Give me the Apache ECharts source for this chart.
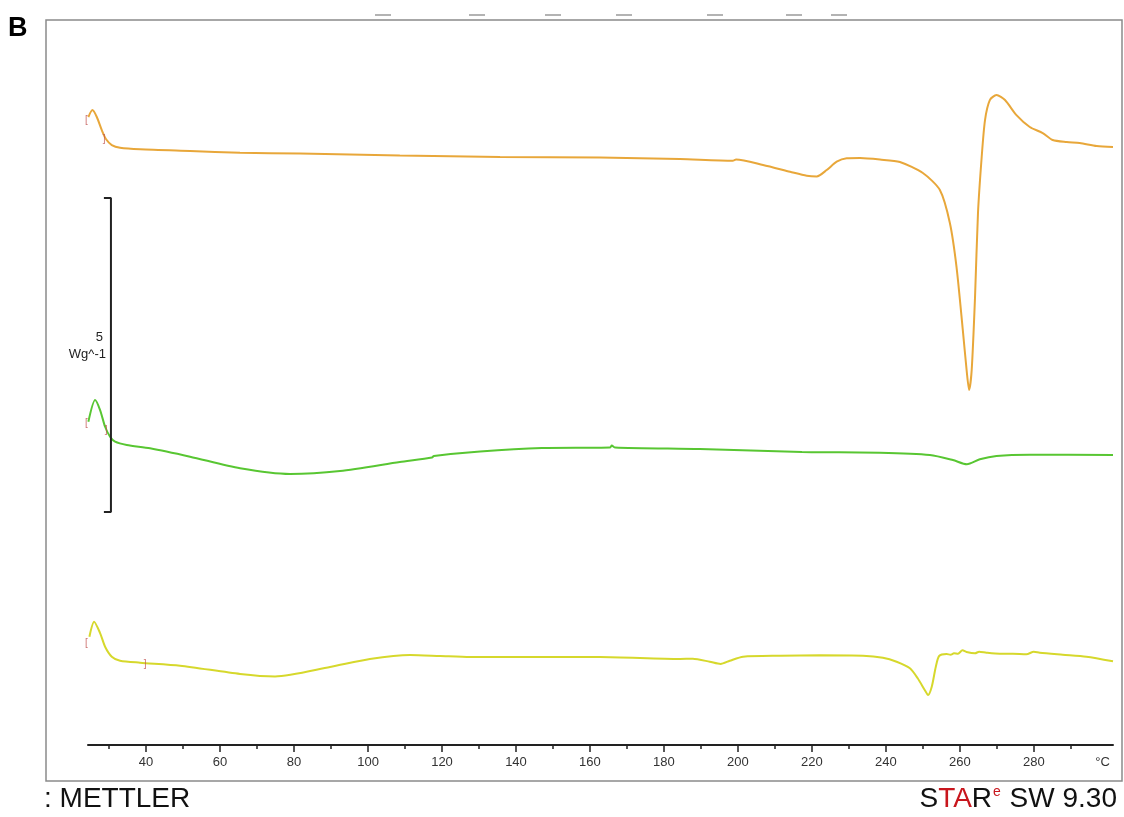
<!DOCTYPE html>
<html>
<head>
<meta charset="utf-8">
<script src="https://cdn.jsdelivr.net/npm/echarts@6/dist/echarts.min.js"></script>
<style>
html,body{margin:0;padding:0;background:#fff;}
#c{width:1124px;height:817px;}
</style>
</head>
<body>
<div id="c"></div>
<script>
// Temperature (°C) and heat flow (W/g, offset per curve)
var orangeT = [24.4,25.49,26.68,28.03,29.19,30.73,32.97,38.38,51.89,65.41,81.62,108.6,135.7,162.7,184.3,198.6,199.5,206.8,214.1,218.6,221.3,224.0,226.7,229.4,233.0,238.4,243.8,250.0,254.6,257.3,259.1,260.8,261.9,262.5,263.2,264.1,264.9,265.9,266.8,268.1,269.9,272.2,275.3,278.9,282.4,285.1,288.9,292.4,297.0,301.4];
var orangeV = [10.00,10.11,10.00,9.79,9.645,9.554,9.511,9.486,9.459,9.432,9.419,9.387,9.363,9.355,9.331,9.304,9.323,9.236,9.129,9.065,9.053,9.156,9.288,9.342,9.347,9.323,9.283,9.108,8.838,8.312,7.611,6.608,5.924,5.653,5.971,7.134,8.471,9.363,9.952,10.27,10.35,10.27,10.03,9.841,9.745,9.634,9.602,9.586,9.538,9.522];

var greenT = [24.4,26.22,27.57,28.92,30.27,31.62,34.78,41.08,51.89,65.41,78.92,92.43,108.6,117.3,117.8,130.3,147.0,165.4,165.9,166.8,189.7,217.3,238.4,251.9,258.1,261.9,265.4,269.9,278.9,301.4];
var greenV = [5.148,5.494,5.334,5.068,4.909,4.830,4.777,4.725,4.591,4.406,4.315,4.363,4.506,4.578,4.602,4.674,4.729,4.737,4.769,4.737,4.713,4.666,4.654,4.618,4.538,4.470,4.549,4.602,4.623,4.618];

var yellowT = [24.68,25.95,27.57,28.92,30.73,32.97,38.38,49.19,65.41,74.86,89.73,100.5,111.4,119.5,127.6,162.7,184.3,187.8,192.4,195.3,197.8,201.4,211.4,222.2,233.8,239.2,242.9,246.5,248.6,250.5,251.4,252.4,253.5,254.4,256.4,257.5,258.4,259.5,260.7,261.8,264.1,265.2,267.2,270.8,274.3,278.0,280.0,281.6,287.8,294.2,301.4];
var yellowV = [1.725,1.963,1.783,1.565,1.406,1.342,1.311,1.263,1.131,1.091,1.242,1.369,1.433,1.417,1.401,1.401,1.369,1.374,1.326,1.290,1.342,1.406,1.422,1.428,1.422,1.390,1.326,1.221,1.062,0.876,0.796,0.928,1.247,1.417,1.449,1.438,1.460,1.454,1.508,1.481,1.460,1.486,1.470,1.454,1.454,1.444,1.486,1.470,1.438,1.406,1.333];

// Integration limit markers [T, value, glyph]
var markerT = [24.4, 29.19, 24.4, 29.73, 24.4, 40.27];
var markerV = [9.952, 9.65, 5.127, 5.016, 1.624, 1.290];
var markerGlyph = ['[', ']', '[', ']', '[', ']'];

// Scale bar: 5 W/g
var scaleT = [28.6, 30.5, 30.5, 28.6];
var scaleV = [8.71, 8.71, 3.71, 3.71];

var minorTicks = [30,50,70,90,110,130,150,170,190,210,230,250,270,290];
var majorTicks = [40,60,80,100,120,140,160,180,200,220,240,260,280];
var unitLabelPos = 298.6;

function zip(a, b) { return a.map(function (v, i) { return [v, b[i]]; }); }

var chart = echarts.init(document.getElementById('c'));
var FONT = '"Liberation Sans", Arial, sans-serif';
var markerData = markerT.map(function (t, i) { return { value: [t, markerV[i]], glyph: markerGlyph[i] }; });

var dashX = [383, 477, 553, 624, 715, 794, 839];
var graphics = [
  { type: 'rect', shape: { x: 46, y: 20, width: 1076, height: 761 }, style: { fill: null, stroke: '#8a8a8a', lineWidth: 1.5 }, z: 0 },
  { type: 'text', left: 8, top: 15, style: { text: 'B', font: 'bold 27px ' + FONT, fill: '#000' } },
  { type: 'text', left: 44, top: 785, style: { text: ': METTLER', font: '28px ' + FONT, fill: '#111' } },
  { type: 'text', right: 7, top: 785, style: {
      text: '{k|S}{r|TA}{k|R}{e|e}{k| SW 9.30}',
      rich: {
        k: { fontSize: 28, fontFamily: FONT, fill: '#111' },
        r: { fontSize: 28, fontFamily: FONT, fill: '#c8161d' },
        e: { fontSize: 14, fontFamily: FONT, fill: '#c8161d', verticalAlign: 'top', padding: [0, 1, 12, 1] }
      } } },
  { type: 'text', x: 103, y: 337, style: { text: '5', font: '13px ' + FONT, fill: '#222', align: 'right', verticalAlign: 'middle' } },
  { type: 'text', x: 106, y: 354, style: { text: 'Wg^-1', font: '13px ' + FONT, fill: '#222', align: 'right', verticalAlign: 'middle' } }
];
dashX.forEach(function (x) {
  graphics.push({ type: 'line', shape: { x1: x - 8, y1: 15, x2: x + 8, y2: 15 }, style: { stroke: '#9a9a9a', lineWidth: 1.5 } });
});

var lineCommon = { type: 'line', showSymbol: false, symbol: 'none', smooth: 0.25, xAxisIndex: 0, yAxisIndex: 0, silent: true };

chart.setOption({
  animation: false,
  backgroundColor: '#fff',
  grid: { left: 88, right: 11, top: 20, bottom: 72 },
  xAxis: [
    {
      type: 'value', min: 24.3, max: 301.4, position: 'bottom',
      axisLine: { show: true, onZero: false, lineStyle: { color: '#222', width: 2 } },
      axisTick: { show: true, customValues: minorTicks, length: 4, lineStyle: { color: '#222', width: 1.5 } },
      axisLabel: { show: false },
      splitLine: { show: false }
    },
    {
      type: 'value', min: 24.3, max: 301.4, position: 'bottom',
      axisLine: { show: false, onZero: false },
      axisTick: { show: true, customValues: majorTicks, length: 7, lineStyle: { color: '#222', width: 1.5 } },
      axisLabel: {
        show: true, customValues: majorTicks.concat([unitLabelPos]), margin: 11,
        color: '#333', fontSize: 13, fontFamily: FONT,
        formatter: function (v) { return v > 290 ? '°C' : String(v); }
      },
      splitLine: { show: false }
    }
  ],
  yAxis: { type: 'value', min: 0, max: 11.545, show: false, splitLine: { show: false } },
  graphic: graphics,
  series: [
    Object.assign({}, lineCommon, { name: 'orange', data: zip(orangeT, orangeV), lineStyle: { color: '#E8A73A', width: 2 } }),
    Object.assign({}, lineCommon, { name: 'green', data: zip(greenT, greenV), lineStyle: { color: '#58C632', width: 2 } }),
    Object.assign({}, lineCommon, { name: 'yellow', data: zip(yellowT, yellowV), lineStyle: { color: '#D6D82C', width: 2 } }),
    { type: 'line', name: 'scale', data: zip(scaleT, scaleV), showSymbol: false, symbol: 'none', smooth: false, silent: true,
      lineStyle: { color: '#222', width: 2 } },
    { type: 'scatter', name: 'markers', data: markerData, symbolSize: 0, silent: true, z: 5,
      label: { show: true, position: 'inside', offset: [-2, 0], color: '#c0504d', fontSize: 10, fontFamily: FONT,
        formatter: function (p) { return p.data.glyph; } } }
  ]
});
</script>
</body>
</html>
